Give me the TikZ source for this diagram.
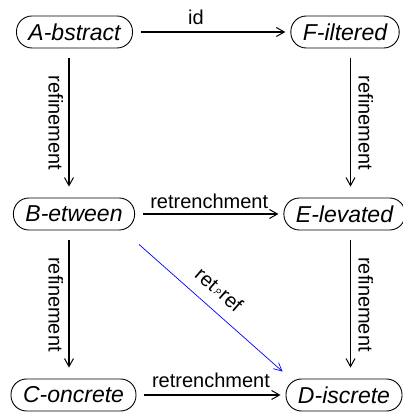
\documentclass[tikz,border=0pt]{standalone}
\usepackage{fontspec}
\setmainfont{Liberation Sans}
\usetikzlibrary{arrows.meta,calc}

% small Z-style composition sign: a raised ring with a tail
\newcommand{\zcomp}{\tikz[baseline=0pt, x=1pt, y=1pt]{
  \draw[-, draw=black, line width=0.55pt] (0,5.8) circle (2.0);
  \draw[-, draw=black, line width=0.55pt] (-1.2,4.1) .. controls (-1.3,2.4) .. (-2.6,0.8);}}

\tikzset{
  state/.style={draw, line width=0.9pt, rounded corners=15.5pt,
    minimum height=32pt, inner xsep=12pt, inner ysep=2pt,
    font=\fontsize{23}{27}\selectfont\itshape},
  mapping/.style={line width=1.3pt, -{Straight Barb[length=8pt,width=9pt,line width=1pt]}},
  hmap/.style={mapping, shorten <=8pt, shorten >=5pt},
  vmap/.style={mapping, shorten <=10pt, shorten >=11pt},
  composite/.style={draw=blue, line width=0.7pt,
    -{Straight Barb[length=8pt,width=8pt,line width=0.7pt]}},
  lbl/.style={font=\fontsize{20}{24}\selectfont, inner sep=3pt},
  lblleft/.style={lbl, rotate=-90, anchor=north, outer sep=3pt},
  lblright/.style={lbl, rotate=-90, anchor=south, outer sep=5pt},
  lbltop/.style={lbl, anchor=south, outer sep=3pt}
}

\begin{document}
\begin{tikzpicture}[x=1pt, y=1pt]
  \useasboundingbox (0,0) rectangle (403,412);

  % the six specifications
  \node[state] (A) at (74.5,380) {A-bstract};
  \node[state] (F) at (345,380) {F-iltered};
  \node[state] (B) at (74,198) {B-etween};
  \node[state] (E) at (344.5,198) {E-levated};
  \node[state] (C) at (73.5,17) {C-oncrete};
  \node[state] (D) at (344,17) {D-iscrete};

  % columns carrying the vertical refinement arrows
  \coordinate (cl) at (69,0);
  \coordinate (cr) at (350.5,0);

  % horizontal mappings
  \draw[hmap] (A) -- (F) node[lbltop, pos=0.4, outer sep=4pt] {id};
  \draw[hmap] (B) -- (E) node[lbltop, midway, outer sep=2pt] {retrenchment};
  \draw[hmap] (C) -- (D) node[lbltop, midway, outer sep=4pt] {retrenchment};

  % vertical refinements
  \draw[vmap] (A.south -| cl) -- (B.north -| cl) node[lblleft, midway] {refinement};
  \draw[vmap] (B.south -| cl) -- (C.north -| cl) node[lblleft, midway] {refinement};
  \draw[vmap] (F.south -| cr) -- (E.north -| cr) node[lblright, midway] {refinement};
  \draw[vmap] (E.south -| cr) -- (D.north -| cr) node[lblright, midway] {refinement};

  % composed retrenchment and refinement
  \coordinate (g1) at ([shift={(4,-14)}]B.south east);
  \coordinate (g2) at ([shift={(-3,7)}]D.north west);
  \draw[composite] (g1) -- (g2)
    node[lbl, pos=0.47, rotate=-41, anchor=south, outer sep=9pt]
      {ret\kern2pt\zcomp\kern1.5pt ref};
\end{tikzpicture}
\end{document}
